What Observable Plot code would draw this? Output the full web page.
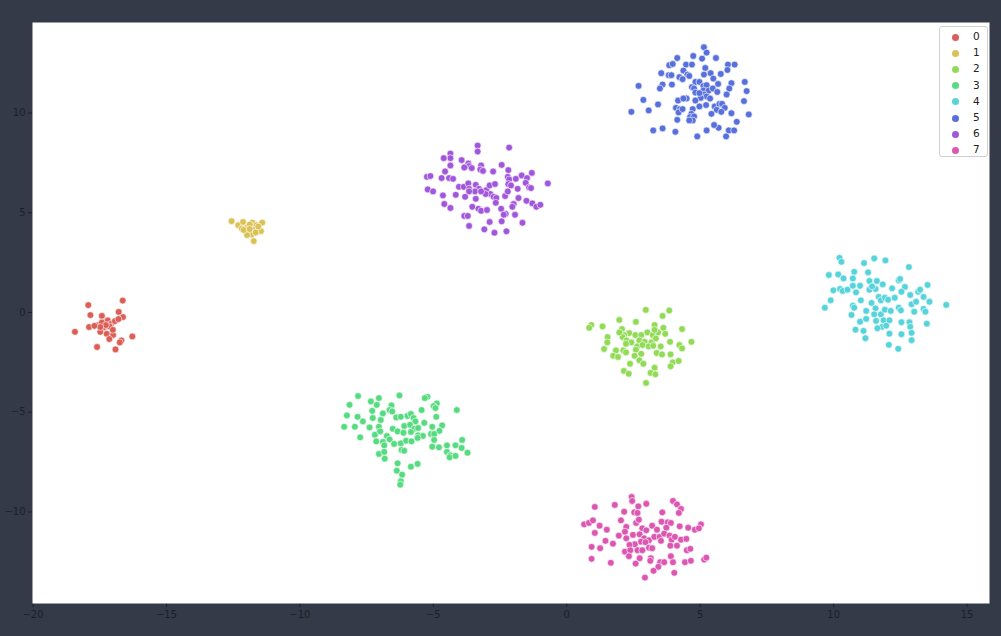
<!DOCTYPE html>
<html>
<head>
<meta charset="utf-8">
<script src="https://cdn.jsdelivr.net/npm/d3@7"></script>
<script src="https://cdn.jsdelivr.net/npm/@observablehq/plot@0.6"></script>
<style>
  html, body { margin: 0; padding: 0; background: #343a48; }
  #wrap { position: relative; width: 1001px; height: 636px; overflow: hidden; }
  #legend { position: absolute; left: 939px; top: 26px; width: 49px; height: 131px;
    background: rgba(255,255,255,0.9); border: 1px solid #d0d0d0; border-radius: 3px; box-sizing: border-box;
    font-family: "DejaVu Sans", sans-serif; font-size: 10.5px; color: #222; }
  .item { position: absolute; left: 0; height: 16px; line-height: 16px; }
  .sw { position: absolute; left: 12px; top: 4.5px; width: 7px; height: 7px; border-radius: 50%; }
  .lb { position: absolute; left: 33px; top: -1px; }
</style>
</head>
<body>
<div id="wrap"></div>
<script>
const labels = ["0","1","2","3","4","5","6","7"];
const colors = ["#db5f57","#dbc257","#91db57","#57db80","#57d3db","#5770db","#a157db","#db57b2"];
const xTicks = [-20,-15,-10,-5,0,5,10,15];
const yTicks = [-10,-5,0,5,10];

const c0 = [[-17.93,0.37],[-16.64,0.60],[-17.85,-0.13],[-17.42,-0.17],[-16.79,0.03],[-16.63,-0.23],[-18.43,-0.97],[-17.90,-0.73],[-17.55,-0.63],[-17.35,-0.50],[-17.20,-0.40],[-17.08,-0.57],[-16.93,-0.43],[-16.80,-0.33],[-17.33,-0.73],[-17.13,-0.70],[-17.48,-0.97],[-17.24,-1.07],[-17.00,-1.13],[-17.14,-1.33],[-16.69,-1.40],[-16.75,-1.50],[-16.28,-1.20],[-17.60,-1.73],[-16.91,-1.85],[-17.42,-0.50],[-17.27,-0.63],[-17.48,-0.73],[-17.70,-0.67],[-17.01,-0.87]];
const c1 = [[-12.56,4.58],[-12.31,4.38],[-12.13,4.54],[-12.18,4.21],[-11.96,4.28],[-11.78,4.51],[-11.63,4.38],[-11.41,4.51],[-11.88,4.41],[-11.73,4.14],[-11.53,4.18],[-11.46,4.08],[-12.03,4.08],[-11.81,3.91],[-11.98,3.88],[-11.73,3.58],[-11.56,4.31],[-12.11,4.14],[-11.66,4.01],[-11.88,4.18]];
const c2 = [[2.96,0.13],[3.84,0.10],[3.59,-0.17],[1.97,-0.37],[2.59,-0.47],[0.92,-0.63],[0.84,-0.77],[1.34,-0.70],[3.29,-0.63],[3.62,-0.77],[4.32,-0.83],[2.07,-0.83],[2.34,-1.03],[2.15,-1.13],[1.53,-1.23],[1.52,-1.50],[1.40,-1.83],[2.09,-1.23],[2.57,-1.13],[2.79,-1.13],[3.02,-1.00],[3.22,-1.13],[3.42,-1.00],[3.69,-1.07],[2.24,-1.40],[2.42,-1.50],[2.72,-1.40],[2.92,-1.47],[3.17,-1.50],[3.34,-1.30],[3.87,-1.47],[4.67,-1.47],[4.22,-1.63],[4.32,-1.80],[2.64,-1.70],[2.84,-1.63],[3.07,-1.70],[3.24,-1.67],[3.52,-1.70],[1.84,-1.90],[1.74,-2.17],[1.92,-2.23],[2.12,-1.90],[2.22,-2.00],[2.59,-1.87],[2.79,-2.07],[2.54,-2.17],[2.72,-2.40],[2.87,-2.57],[3.37,-2.03],[3.57,-2.10],[3.89,-2.10],[3.97,-2.50],[3.89,-2.70],[4.19,-2.43],[2.37,-2.57],[3.29,-2.77],[2.14,-2.93],[2.32,-3.07],[3.14,-3.03],[3.32,-3.10],[2.97,-3.53],[1.97,-1.00],[2.22,-1.57],[3.29,-0.87]];
const c3 = [[-7.82,-4.19],[-6.27,-4.16],[-7.34,-4.46],[-7.04,-4.29],[-7.12,-4.63],[-6.57,-4.66],[-5.22,-4.23],[-5.32,-4.29],[-4.87,-4.56],[-4.99,-4.69],[-4.92,-4.79],[-8.14,-4.63],[-8.24,-5.16],[-7.84,-5.23],[-7.64,-5.46],[-7.29,-4.93],[-7.27,-5.29],[-6.89,-5.06],[-6.97,-5.39],[-6.64,-4.89],[-6.54,-4.96],[-5.44,-4.89],[-4.12,-4.89],[-6.39,-5.26],[-6.22,-5.23],[-5.97,-5.19],[-5.84,-5.09],[-5.74,-5.29],[-5.67,-5.46],[-4.89,-5.23],[-8.34,-5.73],[-7.94,-5.73],[-7.39,-5.76],[-7.04,-5.73],[-6.52,-5.83],[-6.09,-5.69],[-5.87,-5.63],[-5.72,-5.83],[-5.57,-5.79],[-5.34,-5.53],[-5.04,-5.73],[-4.67,-5.66],[-4.77,-5.93],[-5.09,-6.09],[-4.97,-6.09],[-7.19,-6.13],[-6.99,-5.96],[-6.74,-6.19],[-6.34,-5.96],[-6.12,-6.03],[-5.84,-5.99],[-5.57,-6.16],[-5.39,-6.19],[-7.74,-6.26],[-7.14,-6.46],[-6.89,-6.49],[-6.84,-6.66],[-6.64,-6.36],[-6.47,-6.59],[-6.22,-6.56],[-6.02,-6.43],[-5.82,-6.46],[-5.59,-6.29],[-4.97,-6.39],[-5.04,-6.73],[-4.79,-6.76],[-4.49,-6.66],[-4.17,-6.66],[-3.92,-6.39],[-3.94,-6.79],[-3.72,-7.03],[-4.49,-6.99],[-4.37,-7.16],[-4.39,-7.26],[-4.17,-7.19],[-7.04,-7.09],[-6.84,-6.99],[-6.82,-7.33],[-6.19,-6.89],[-6.09,-6.93],[-6.34,-7.56],[-6.37,-7.93],[-5.84,-7.73],[-5.59,-7.59],[-6.17,-8.13],[-6.22,-8.46],[-6.24,-8.63]];
const c4 = [[10.22,2.74],[10.29,2.54],[11.14,2.48],[11.52,2.71],[11.94,2.61],[12.82,2.28],[9.82,1.88],[10.17,1.91],[10.37,1.71],[10.77,2.04],[11.29,2.01],[10.72,1.71],[9.99,1.11],[10.24,1.18],[10.34,1.08],[10.52,1.14],[10.72,1.34],[10.84,1.01],[10.99,1.34],[11.34,1.58],[11.34,1.14],[11.57,1.18],[11.62,1.58],[11.84,1.41],[11.44,1.31],[12.44,1.61],[12.49,1.68],[12.67,1.28],[12.19,1.21],[12.54,1.04],[13.17,1.04],[13.24,1.14],[13.52,1.38],[13.37,0.78],[13.59,0.54],[12.87,0.88],[9.89,0.61],[9.67,0.24],[10.72,0.34],[10.77,0.24],[11.02,0.61],[11.42,0.48],[11.69,0.78],[11.77,0.61],[11.92,0.74],[12.04,0.64],[12.29,0.74],[11.57,0.21],[11.22,0.08],[11.52,-0.09],[11.77,-0.09],[11.92,0.14],[12.14,0.08],[12.44,0.24],[12.52,0.11],[12.92,0.41],[13.02,0.04],[13.09,0.54],[13.37,0.18],[13.44,0.04],[14.22,0.38],[10.67,-0.12],[10.99,-0.46],[11.22,-0.32],[11.59,-0.42],[11.87,-0.39],[11.82,-0.72],[11.64,-0.79],[12.09,-0.39],[11.97,-0.66],[12.54,-0.49],[12.84,-0.49],[12.87,-0.72],[13.49,-0.56],[10.82,-0.86],[11.12,-0.92],[11.19,-1.29],[12.09,-1.06],[12.54,-1.09],[12.92,-1.02],[12.92,-1.39],[12.07,-1.62],[12.42,-1.82]];
const c5 = [[5.14,13.30],[5.24,13.03],[4.14,12.76],[4.74,12.86],[5.07,12.73],[5.59,12.76],[3.84,12.40],[3.97,12.46],[4.47,12.43],[4.69,12.43],[5.19,12.26],[6.04,12.43],[6.29,12.43],[6.02,12.16],[3.54,12.00],[3.82,11.90],[3.92,11.90],[4.37,12.13],[4.52,11.93],[4.59,11.86],[4.22,11.80],[4.34,11.70],[5.14,11.93],[5.39,12.00],[5.49,11.73],[5.77,11.96],[4.82,11.56],[4.97,11.56],[4.69,11.30],[3.59,11.43],[3.49,11.23],[3.94,11.43],[2.69,11.36],[2.87,10.66],[2.42,10.06],[3.07,10.13],[3.42,10.43],[4.77,11.23],[5.12,11.36],[5.24,11.40],[5.12,11.13],[5.32,11.13],[5.47,11.23],[5.67,11.46],[5.64,11.06],[6.17,11.50],[6.09,11.23],[5.99,10.93],[6.67,11.56],[6.74,11.10],[6.64,10.60],[6.82,9.93],[5.14,10.93],[5.24,10.83],[5.02,10.76],[5.37,10.73],[4.82,10.63],[4.49,10.73],[4.17,10.63],[4.37,10.73],[4.09,10.26],[4.24,10.20],[4.19,10.03],[4.34,10.20],[4.14,9.66],[4.72,10.20],[4.67,9.96],[4.62,9.80],[4.77,9.83],[4.72,9.63],[4.59,9.63],[4.97,10.33],[5.22,10.40],[5.54,10.33],[5.72,10.46],[5.82,10.46],[5.92,10.26],[5.62,10.16],[5.79,10.06],[5.42,9.96],[6.17,9.99],[6.37,9.56],[5.69,9.26],[5.52,9.40],[5.24,9.13],[4.89,8.83],[6.07,9.13],[6.27,9.13],[5.97,8.83],[3.24,9.13],[3.59,9.23],[4.07,9.06],[4.82,11.03],[4.97,11.00]];
const c6 = [[-3.34,8.37],[-3.34,8.07],[-2.16,8.27],[-4.36,7.97],[-4.36,7.74],[-4.61,7.74],[-3.94,7.64],[-3.69,7.47],[-3.66,7.34],[-3.84,7.27],[-3.21,7.37],[-3.24,7.17],[-3.56,7.24],[-3.14,7.10],[-2.76,7.07],[-2.44,7.40],[-2.19,7.14],[-4.36,7.37],[-4.56,7.07],[-5.24,6.80],[-5.11,6.84],[-4.69,6.74],[-4.41,6.74],[-4.26,6.70],[-2.21,6.80],[-2.16,6.67],[-1.69,6.87],[-1.31,7.00],[-1.49,6.74],[-1.54,6.50],[-2.19,6.44],[-2.09,6.37],[-1.91,6.70],[-0.71,6.47],[-5.21,6.17],[-5.01,6.07],[-4.64,5.87],[-4.16,5.90],[-4.04,6.30],[-3.86,6.30],[-3.69,6.47],[-3.66,6.20],[-3.41,6.40],[-3.29,6.20],[-3.01,6.14],[-2.89,6.37],[-2.69,6.44],[-2.86,5.94],[-3.04,5.94],[-3.44,6.07],[-3.66,6.07],[-3.81,5.80],[-3.41,5.70],[-3.21,6.07],[-2.74,5.80],[-2.64,5.74],[-2.31,5.84],[-2.21,6.07],[-1.84,6.20],[-1.41,6.27],[-1.34,6.24],[-1.81,5.74],[-1.51,5.60],[-1.29,5.47],[-1.14,5.30],[-0.99,5.40],[-1.99,5.44],[-2.04,5.30],[-4.59,5.44],[-4.36,5.24],[-3.54,5.30],[-3.31,5.20],[-3.21,5.10],[-2.99,5.14],[-2.46,5.20],[-2.66,5.50],[-2.29,4.94],[-2.36,4.90],[-1.94,4.90],[-3.84,4.84],[-3.71,4.84],[-3.66,4.34],[-2.89,4.54],[-2.44,4.57],[-1.66,4.50],[-3.09,4.17],[-2.71,4.00],[-2.26,4.07]];
const c7 = [[2.43,-9.25],[2.45,-9.45],[1.05,-9.75],[1.80,-9.65],[2.68,-9.72],[2.98,-9.59],[3.98,-9.45],[4.13,-9.62],[4.28,-9.85],[4.20,-10.05],[2.15,-9.99],[2.53,-10.02],[2.65,-10.05],[3.58,-10.02],[0.65,-10.62],[0.83,-10.55],[0.98,-10.42],[1.23,-10.69],[1.50,-10.89],[2.03,-10.42],[2.23,-10.75],[2.60,-10.55],[2.70,-10.39],[2.83,-10.82],[2.98,-10.92],[3.20,-10.69],[3.55,-10.49],[3.78,-10.52],[3.90,-10.55],[3.73,-10.79],[3.38,-10.89],[4.23,-10.72],[4.55,-10.79],[4.80,-10.89],[5.03,-10.62],[4.95,-10.82],[1.05,-11.05],[1.45,-11.45],[1.95,-11.19],[2.18,-10.99],[2.23,-11.32],[2.48,-11.15],[2.73,-11.12],[2.90,-11.32],[3.08,-11.42],[3.28,-11.25],[3.48,-11.25],[3.65,-11.09],[3.85,-11.19],[3.93,-11.39],[4.05,-11.25],[4.28,-11.39],[4.48,-11.35],[2.55,-11.62],[2.78,-11.49],[2.95,-11.52],[3.53,-11.45],[0.93,-11.75],[1.25,-11.82],[1.73,-11.59],[2.35,-11.65],[2.65,-11.92],[2.83,-11.92],[3.08,-11.79],[3.20,-11.82],[3.88,-11.69],[4.13,-11.69],[4.50,-11.92],[4.63,-11.85],[2.18,-11.99],[2.38,-11.92],[2.33,-12.22],[2.73,-12.32],[3.15,-12.32],[3.13,-12.45],[3.50,-12.52],[3.65,-12.52],[3.90,-12.22],[3.98,-12.52],[4.43,-12.52],[4.65,-12.45],[5.15,-12.39],[5.23,-12.29],[0.93,-12.35],[1.65,-12.55],[2.58,-12.59],[3.43,-12.75],[3.25,-12.95],[4.03,-13.05],[2.93,-13.29]];

const clusters = [c0,c1,c2,c3,c4,c5,c6,c7];
const data = clusters.flatMap((pts, i) => pts.map(([x, y]) => ({x, y, label: labels[i]})));

const chart = Plot.plot({
  width: 1001,
  height: 636,
  marginLeft: 32,
  marginRight: 12,
  marginTop: 22,
  marginBottom: 33,
  style: {background: "transparent", color: "#1c1f26", fontFamily: "DejaVu Sans, sans-serif", fontSize: "10px", overflow: "visible"},
  x: {domain: [-20.02, 15.84], ticks: xTicks, tickSize: 4, tickPadding: 3, label: null, tickFormat: d => d3.format("")(d).replace("-", "\u2212")},
  y: {domain: [-14.59, 14.54], ticks: yTicks, tickSize: 4, tickPadding: 3, label: null, tickFormat: d => d3.format("")(d).replace("-", "\u2212")},
  color: {domain: labels, range: colors},
  marks: [
    Plot.frame({fill: "white", stroke: null}),
    Plot.dot(data, {x: "x", y: "y", fill: "label", stroke: "white", strokeWidth: 0.6, r: 3.4})
  ]
});
const wrap = document.getElementById("wrap");
wrap.appendChild(chart);

const legend = document.createElement("div");
legend.id = "legend";
labels.forEach((l, i) => {
  const it = document.createElement("div");
  it.className = "item";
  it.style.top = (2 + i * 16.2) + "px";
  it.style.width = "100%";
  const sw = document.createElement("span");
  sw.className = "sw";
  sw.style.background = colors[i];
  const lb = document.createElement("span");
  lb.className = "lb";
  lb.textContent = l;
  it.appendChild(sw);
  it.appendChild(lb);
  legend.appendChild(it);
});
wrap.appendChild(legend);
</script>
</body>
</html>
